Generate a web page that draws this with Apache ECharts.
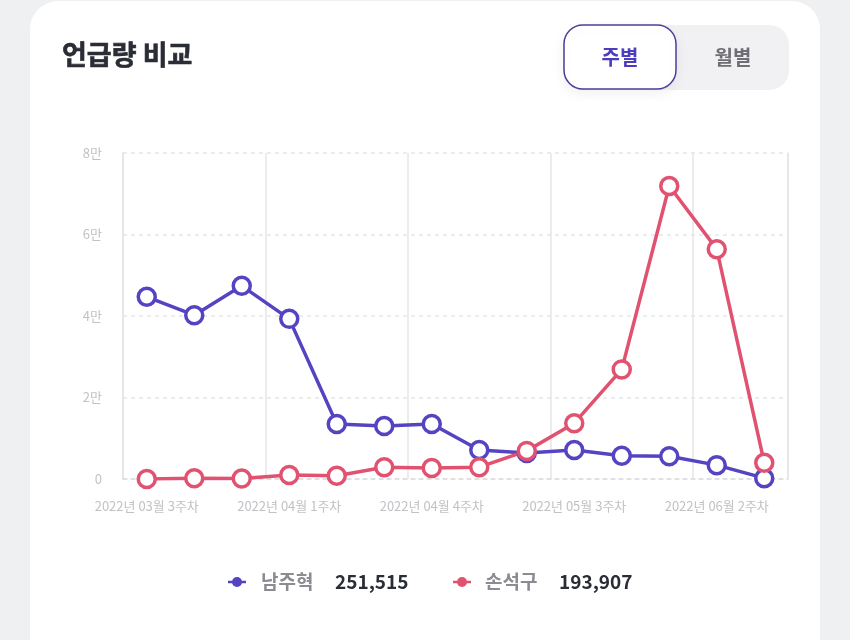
<!DOCTYPE html>
<html>
<head>
<meta charset="utf-8">
<script src="https://cdn.jsdelivr.net/npm/echarts@6/dist/echarts.min.js"></script>
<style>
html,body{margin:0;padding:0;background:#eff0f2;}
#c{width:850px;height:640px;}
</style>
</head>
<body>
<div id="c"></div>
<script>
var categories = [
  '2022년 03월 3주차','2022년 03월 4주차','2022년 03월 5주차',
  '2022년 04월 1주차','2022년 04월 2주차','2022년 04월 3주차',
  '2022년 04월 4주차','2022년 05월 1주차','2022년 05월 2주차',
  '2022년 05월 3주차','2022년 05월 4주차','2022년 06월 1주차',
  '2022년 06월 2주차','2022년 06월 3주차'
];
var seriesNames = ['남주혁', '손석구'];
var namjuhyuk = [44700, 40200, 47400, 39300, 13500, 13000, 13500, 7100, 6400, 7100, 5700, 5600, 3400, 200];
var sonseokgu = [0, 200, 100, 1000, 800, 2900, 2700, 2900, 6900, 13700, 26900, 71900, 56400, 4000];
var totals = ['251,515', '193,907'];
var yTicks = [0, 20000, 40000, 60000, 80000];
var yTickLabels = ['0', '2만', '4만', '6만', '8만'];
var titleText = '언급량 비교';
var toggleLabels = ['주별', '월별'];

var BLUE = '#5444c2', RED = '#e0526f';
var FONT = '"Noto Sans CJK KR", "Noto Sans", sans-serif';

var chart = echarts.init(document.getElementById('c'), null, {renderer: 'canvas'});

function lineSeries(name, data, color) {
  return {
    name: name, type: 'line', data: data,
    symbol: 'circle', symbolSize: 17,
    lineStyle: {color: color, width: 3.5},
    itemStyle: {color: '#fff', borderColor: color, borderWidth: 3.5},
    z: 3
  };
}

var legendY = 582;
var option = {
  backgroundColor: 'transparent',
  animation: false,
  grid: {left: 123, right: 62, top: 153, bottom: 161},
  xAxis: {
    type: 'category', data: categories, boundaryGap: true,
    axisLine: {show: true, lineStyle: {color: '#dcdcdc', type: [4, 4], width: 1.5}},
    axisTick: {show: false},
    axisLabel: {interval: 2, color: '#c2c2c6', fontSize: 13, fontFamily: FONT, margin: 21},
    splitLine: {show: true, interval: 2, lineStyle: {color: '#e6e6e8', width: 1.5}}
  },
  yAxis: {
    type: 'value', min: 0, max: 80000, interval: 20000,
    axisLine: {show: true, lineStyle: {color: '#e4e4e6', width: 1.5}},
    axisTick: {show: false},
    axisLabel: {
      color: '#c2c2c6', fontSize: 13, fontFamily: FONT, margin: 21,
      formatter: function (v) { var i = yTicks.indexOf(v); return i >= 0 ? yTickLabels[i] : ''; }
    },
    splitLine: {show: true, lineStyle: {color: '#e6e6e8', type: [4, 4], width: 1.5}}
  },
  series: [lineSeries(seriesNames[0], namjuhyuk, BLUE), lineSeries(seriesNames[1], sonseokgu, RED)],
  graphic: [
    {type: 'rect', shape: {x: 30, y: 1, width: 790, height: 700, r: 28}, style: {fill: '#ffffff'}, z: -10, silent: true},
    {type: 'line', shape: {x1: 788, y1: 153, x2: 788, y2: 479}, style: {stroke: '#e6e6e8', lineWidth: 1.5}, z: 1},
    {type: 'text', x: 62, y: 55, style: {text: titleText, fill: '#2a2d36', font: 'bold 27px ' + FONT, verticalAlign: 'middle', stroke: '#2a2d36', lineWidth: 0.6}},
    {type: 'rect', shape: {x: 563, y: 25, width: 226, height: 65, r: 20}, style: {fill: '#f1f1f4'}},
    {type: 'rect', shape: {x: 564, y: 25, width: 112, height: 64, r: 19},
      style: {fill: '#ffffff', stroke: '#4d3d9c', lineWidth: 1.5, shadowBlur: 14, shadowColor: 'rgba(0,0,0,0.06)', shadowOffsetY: 4}},
    {type: 'text', x: 620, y: 57, style: {text: toggleLabels[0], fill: '#4b3cc0', font: 'bold 20px ' + FONT, align: 'center', verticalAlign: 'middle'}},
    {type: 'text', x: 733, y: 57, style: {text: toggleLabels[1], fill: '#6e6e74', font: 'bold 20px ' + FONT, align: 'center', verticalAlign: 'middle'}},
    // legend
    {type: 'line', shape: {x1: 228, y1: legendY, x2: 246, y2: legendY}, style: {stroke: BLUE, lineWidth: 2.5}},
    {type: 'circle', shape: {cx: 237, cy: legendY, r: 5}, style: {fill: BLUE}},
    {type: 'text', x: 261, y: legendY, style: {text: seriesNames[0], fill: '#8b8b91', font: 'bold 19px ' + FONT, verticalAlign: 'middle'}},
    {type: 'text', x: 335, y: legendY, style: {text: totals[0], fill: '#2a2d36', font: 'bold 19px ' + FONT, verticalAlign: 'middle'}},
    {type: 'line', shape: {x1: 453, y1: legendY, x2: 471, y2: legendY}, style: {stroke: RED, lineWidth: 2.5}},
    {type: 'circle', shape: {cx: 462, cy: legendY, r: 5}, style: {fill: RED}},
    {type: 'text', x: 485, y: legendY, style: {text: seriesNames[1], fill: '#8b8b91', font: 'bold 19px ' + FONT, verticalAlign: 'middle'}},
    {type: 'text', x: 559, y: legendY, style: {text: totals[1], fill: '#2a2d36', font: 'bold 19px ' + FONT, verticalAlign: 'middle'}}
  ]
};
chart.setOption(option);
</script>
</body>
</html>
